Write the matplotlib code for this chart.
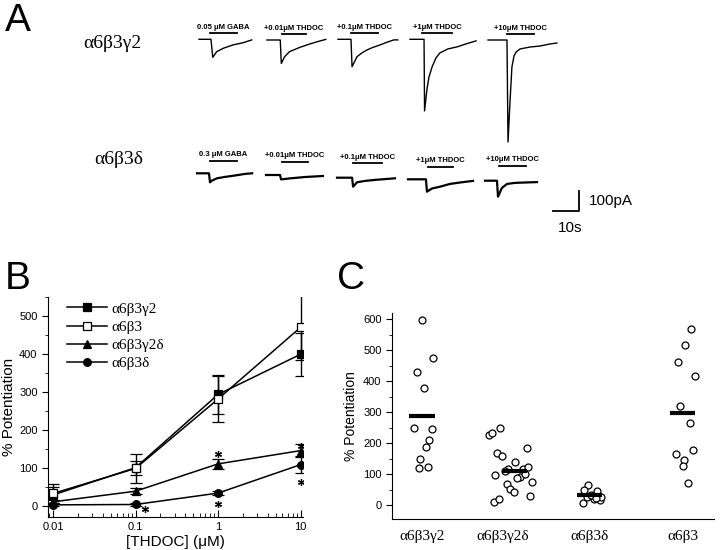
import matplotlib.pyplot as plt
from matplotlib.ticker import MultipleLocator, NullFormatter

SERIF = ['Liberation Serif', 'DejaVu Serif']
SANS = ['Liberation Sans', 'DejaVu Sans']

# ---------------- panel A : current traces (s, pA)
g2_labels = ['0.05 \u03bcM GABA', '+0.01\u03bcM THDOC', '+0.1\u03bcM THDOC',
             '+1\u03bcM THDOC', '+10\u03bcM THDOC']
g2_t = [[0, 4.6, 5.3, 6.8, 9.3, 13.1, 17.0, 20.3],
        [0, 5.1, 5.5, 6.8, 8.7, 12.6, 16.4, 20.3, 22.6],
        [0, 5.0, 5.4, 7.3, 9.2, 11.2, 13.1, 16.2, 19.2, 21.5, 23.0],
        [0, 5.4, 5.6, 6.5, 7.3, 8.5, 10.0, 11.5, 14.6, 18.1, 21.5, 25.4],
        [0, 7.3, 7.7, 8.5, 9.2, 10.0, 10.8, 12.3, 14.2, 16.2, 20.0, 23.8, 26.5]]
g2_i = [[0, 0, -90, -62, -45, -28, -17, -3],
        [0, 0, -117, -83, -58, -37, -20, -5, 3],
        [0, 0, -137, -87, -68, -53, -42, -28, -13, -3, -3],
        [0, 0, -358, -253, -188, -138, -93, -68, -48, -38, -23, -8],
        [0, 0, -510, -300, -135, -80, -60, -45, -40, -35, -30, -20, -15]]
g2_bar = [(4.2, 14.6), (5.7, 14.9), (5.0, 15.4), (4.6, 16.2), (7.3, 17.7)]

d_labels = ['0.3 \u03bcM GABA', '+0.01\u03bcM THDOC', '+0.1\u03bcM THDOC',
            '+1\u03bcM THDOC', '+10\u03bcM THDOC']
d_t = [[0, 4.6, 5.0, 5.8, 7.7, 10.8, 14.6, 18.5, 21.2],
       [0, 5.4, 5.8, 9.2, 15.0, 21.9],
       [0, 5.8, 6.2, 7.7, 10.8, 14.6, 22.3],
       [0, 6.9, 7.3, 9.2, 12.3, 16.2, 20.0, 25.0],
       [0, 4.6, 5.0, 6.5, 8.5, 11.5, 15.4, 20.0]]
d_i = [[0, 0, -45, -36, -25, -18, -11, -3, 0],
       [0, 0, -22, -17, -10, -5],
       [0, 0, -45, -23, -16, -11, -3],
       [0, 0, -62, -46, -37, -23, -16, -8],
       [0, 0, -80, -36, -16, -11, -9, -7]]
d_bar = [(5.0, 15.4), (6.2, 16.2), (6.2, 17.3), (7.7, 17.3), (5.4, 15.8)]

# ---------------- panel B : dose response
conc = [0.01, 0.1, 1, 10]
b_names = ['\u03b16\u03b23\u03b32', '\u03b16\u03b23', '\u03b16\u03b23\u03b32\u03b4', '\u03b16\u03b23\u03b4']
b_mean = [[28, 100, 293, 399],
          [32, 98, 281, 470],
          [10, 38, 110, 145],
          [2, 3, 33, 108]]
b_err = [[20, 18, 52, 56],
         [24, 38, 60, 87],
         [5, 8, 13, 18],
         [4, 4, 5, 22]]
star_x = [0.13, 1, 1, 10, 10]
star_y = [-10, 135, 4, 158, 61]

# ---------------- panel C : single cells
c_names = ['\u03b16\u03b23\u03b32', '\u03b16\u03b23\u03b32\u03b4', '\u03b16\u03b23\u03b4', '\u03b16\u03b23']
c_vals = [[598, 474, 431, 377, 250, 245, 210, 189, 148, 121, 123],
          [226, 232, 248, 169, 158, 184, 98, 138, 118, 110, 116, 123, 92, 86, 100,
           75, 67, 51, 42, 28, 11, 19],
          [66, 48, 47, 6, 27, 20, 16, 27, 32, 22],
          [569, 517, 463, 418, 320, 266, 178, 165, 145, 126, 72]]
c_jit = [[0, 0.13, -0.06, 0.02, -0.09, 0.11, 0.08, 0.04, -0.02, -0.04, 0.07],
         [-0.16, -0.13, -0.03, -0.07, -0.01, 0.27, -0.09, 0.14, 0.06, 0.02, 0.23,
          0.29, 0.19, 0.16, 0.25, 0.33, 0.04, 0.08, 0.12, 0.31, -0.11, -0.05],
         [-0.02, -0.06, 0.09, -0.07, -0.03, 0.05, 0.12, 0.13, 0.02, 0.08],
         [0.10, 0.03, -0.05, 0.14, -0.03, 0.08, 0.12, -0.08, 0.02, 0.0, 0.06]]
c_mean = [289, 111, 32, 296]

fig = plt.figure(figsize=(7.2, 5.5), dpi=100)

# panel A drawn in a pixel-sized canvas
axA = fig.add_axes([0, 0, 1, 1])
axA.set_xlim(0, 720)
axA.set_ylim(550, 0)
axA.axis('off')

PX_S = 2.6    # px per second
PX_PA = 0.2   # px per pA


def draw_row(ts, cur, bars, labels, x0s, y0s, bar_up, lw):
    for k in range(len(ts)):
        xs = [x0s[k] + t * PX_S for t in ts[k]]
        ys = [y0s[k] - c * PX_PA for c in cur[k]]
        axA.plot(xs, ys, color='k', lw=lw, solid_joinstyle='round')
        b0, b1 = bars[k]
        by = y0s[k] - bar_up[k]
        axA.plot([x0s[k] + b0 * PX_S, x0s[k] + b1 * PX_S], [by, by], color='k', lw=1.3)
        axA.text(x0s[k] + (b0 + b1) / 2 * PX_S, by - 2.5, labels[k], ha='center', va='bottom',
                 fontsize=5.5, family=SANS, fontweight='bold')


draw_row(g2_t, g2_i, g2_bar, g2_labels, [199, 267, 338, 410, 488],
         [39.3, 40, 39.3, 39.3, 40], [6, 6, 6, 6, 6], 1.0)
draw_row(d_t, d_i, d_bar, d_labels, [197, 266, 337, 408, 485],
         [173.3, 175, 177.7, 179.3, 180.7], [12.6, 13.3, 14.4, 12.6, 15], 1.6)

axA.text(83, 43, '\u03b16\u03b23\u03b32', fontsize=14, family=SERIF, va='center', ha='left')
axA.text(94, 160, '\u03b16\u03b23\u03b4', fontsize=14, family=SERIF, va='center', ha='left')

# scale bar
sx, sy = 579, 211
axA.plot([sx - 10 * PX_S, sx, sx], [sy, sy, sy - 100 * PX_PA], color='k', lw=1.3)
axA.text(sx + 10, sy - 10, '100pA', fontsize=11, family=SANS, va='center', ha='left')
axA.text(sx - 21, sy + 17, '10s', fontsize=11, family=SANS, va='center', ha='left')

fig.text(5 / 720, 1 - 3 / 550, 'A', fontsize=28, family=SANS, va='top', ha='left')
fig.text(5 / 720, 1 - 261 / 550, 'B', fontsize=28, family=SANS, va='top', ha='left')
fig.text(337 / 720, 1 - 261 / 550, 'C', fontsize=28, family=SANS, va='top', ha='left')

# ---------------- panel B
axB = fig.add_axes([48 / 720, 33 / 550, 255 / 720, 220 / 550])
markers = [dict(marker='s', mfc='k'), dict(marker='s', mfc='white'),
           dict(marker='^', mfc='k'), dict(marker='o', mfc='k')]
for k in range(4):
    axB.errorbar(conc, b_mean[k], yerr=b_err[k], color='k', lw=1.1, capsize=4.5,
                 capthick=1.0, elinewidth=1.0, ms=5.5, mec='k', mew=0.9, label=b_names[k],
                 **markers[k])
axB.plot(star_x, star_y, ls='none', marker=(6, 2, 0), ms=5, mew=0.9, color='k')
axB.set_xscale('log')
axB.set_xlim(0.0087, 10.7)
axB.set_ylim(-30, 550)
axB.set_xticks(conc, ['0.01', '0.1', '1', '10'])
axB.xaxis.set_minor_formatter(NullFormatter())
axB.yaxis.set_major_locator(MultipleLocator(100))
axB.yaxis.set_minor_locator(MultipleLocator(50))
axB.set_yticks([0, 100, 200, 300, 400, 500])
axB.spines['top'].set_visible(False)
axB.spines['right'].set_visible(False)
axB.tick_params(axis='x', which='both', direction='in', labelsize=8)
axB.tick_params(axis='x', which='major', length=5)
axB.tick_params(axis='x', which='minor', length=3)
axB.tick_params(axis='y', which='both', direction='out', labelsize=8)
axB.tick_params(axis='y', which='major', length=4)
axB.tick_params(axis='y', which='minor', length=2.5)
for lab in axB.get_xticklabels() + axB.get_yticklabels():
    lab.set_family(SANS)
axB.set_xlabel('[THDOC] (\u03bcM)', fontsize=11, family=SANS, labelpad=2)
axB.set_ylabel('% Potentiation', fontsize=11, family=SANS, labelpad=2)
handles, labs = axB.get_legend_handles_labels()
handles = [h[0] for h in handles]
axB.legend(handles, labs, loc='upper left', bbox_to_anchor=(0.02, 1.04), frameon=False,
           prop={'family': SERIF, 'size': 11}, handlelength=2.6, labelspacing=0.3,
           handletextpad=0.3)

# ---------------- panel C
axC = fig.add_axes([392 / 720, 31 / 550, 322 / 720, 206 / 550])
pos = [1, 1.93, 2.92, 3.99]
line_shift = [0, 0.13, 0, 0]
for k in range(4):
    xs = [pos[k] + j for j in c_jit[k]]
    axC.plot(xs, c_vals[k], ls='none', marker='o', ms=5, mfc='white', mec='k', mew=0.9)
    cx = pos[k] + line_shift[k]
    axC.plot([cx - 0.145, cx + 0.145], [c_mean[k], c_mean[k]], color='k', lw=3, zorder=5,
             solid_capstyle='butt')
axC.set_xlim(0.655, 4.35)
axC.set_ylim(-45, 620)
axC.set_xticks(pos, c_names)
axC.tick_params(axis='x', length=0, pad=8)
for lab in axC.get_xticklabels():
    lab.set_family(SERIF)
    lab.set_fontsize(11)
axC.yaxis.set_major_locator(MultipleLocator(100))
axC.yaxis.set_minor_locator(MultipleLocator(50))
axC.set_yticks([0, 100, 200, 300, 400, 500, 600])
axC.tick_params(axis='y', which='both', direction='out', labelsize=8)
axC.tick_params(axis='y', which='major', length=4)
axC.tick_params(axis='y', which='minor', length=2.5)
for lab in axC.get_yticklabels():
    lab.set_family(SANS)
axC.spines['top'].set_visible(False)
axC.spines['right'].set_visible(False)
axC.set_ylabel('% Potentiation', fontsize=10, family=SANS, labelpad=4)

fig.savefig('out.png', dpi=100)
